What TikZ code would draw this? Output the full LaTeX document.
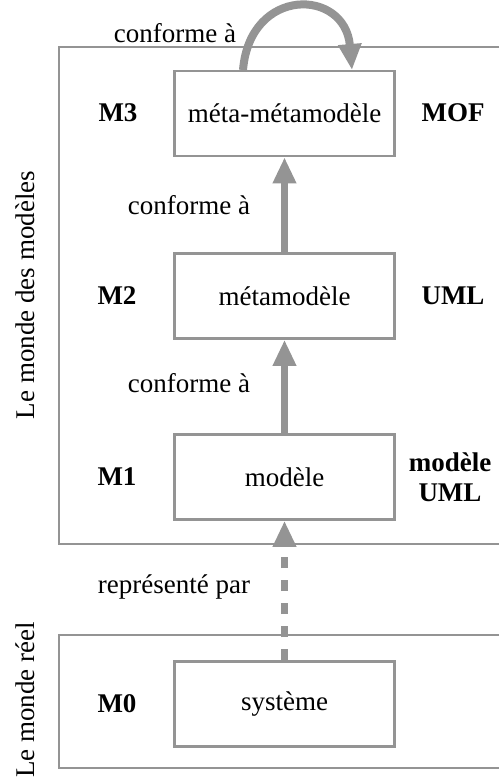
\documentclass[tikz,border=0pt]{standalone}
\usepackage{fontspec}
\setmainfont{Liberation Serif}
\usetikzlibrary{arrows.meta}
\definecolor{gristrait}{gray}{0.58}
\begin{document}
\begin{tikzpicture}[x=0.5pt,y=-0.5pt,font=\fontsize{13.5}{15}\selectfont]
  \tikzstyle{niveau}=[draw=gristrait,line width=1.3pt,minimum width=110pt,minimum height=42.5pt,inner sep=0pt]
  \tikzstyle{cadre}=[draw=gristrait,line width=1.3pt]
  \tikzstyle{conforme}=[draw=gristrait,line width=3.4pt,-{Triangle[length=13pt,width=11pt]}]
  \tikzstyle{etiq}=[font=\fontsize{13.5}{15}\selectfont\bfseries]
  \useasboundingbox (0,0) rectangle (499,778);
  % les deux mondes
  \draw[cadre] (499,47) -- (59,47) -- (59,544) -- (499,544);
  \draw[cadre] (499,635) -- (59,635) -- (59,768) -- (499,768);
  \node[rotate=90] (mondemod) at (25,295) {Le monde des modèles};
  \node[rotate=90] (mondereel) at (25,700) {Le monde réel};
  % les niveaux
  \node[niveau] (m3) at (284.5,113.5) {méta-métamodèle};
  \node[niveau] (m2) at (284.5,296) {métamodèle};
  \node[niveau] (m1) at (284.5,477) {modèle};
  \node[niveau] (m0) at (284.5,704) {système};
  \node[etiq] (lm3) at (118,113) {M3};
  \node[etiq] (lm2) at (117,296) {M2};
  \node[etiq] (lm1) at (117,477) {M1};
  \node[etiq] (lm0) at (117,704) {M0};
  \node[etiq] (mof) at (453,113) {MOF};
  \node[etiq] (uml) at (453,296) {UML};
  \node[etiq,align=center] (umlmod) at (450,477) {modèle\\UML};
  % les relations
  \draw[conforme] (m2) -- (m3);
  \draw[conforme] (m1) -- (m2);
  \draw[conforme,dash pattern=on 5.5pt off 6pt] (m0) -- (m1);
  \coordinate (depart) at (243,70);
  \coordinate (arrivee) at (352,70);
  \draw[conforme,line width=4pt] (depart) .. controls (250,-14) and (345,-12) .. (arrivee);
  \node (c3) at (175,33) {conforme à};
  \node (c2) at (189,205) {conforme à};
  \node (c1) at (189,383) {conforme à};
  \node (rep) at (174,587) {représenté par};
\end{tikzpicture}
\end{document}
